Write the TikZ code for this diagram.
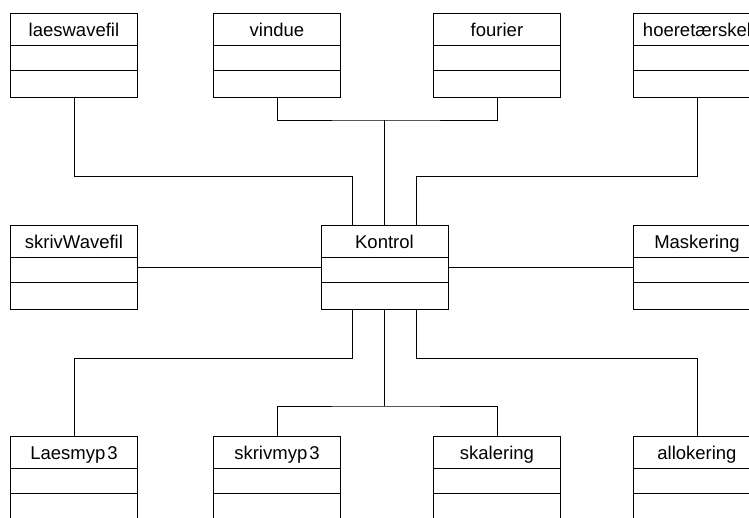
\documentclass[tikz,border=0pt]{standalone}
\usepackage{fontspec}
\setmainfont{Liberation Sans}
\begin{document}
\begin{tikzpicture}[x=1pt,y=-1pt,
  classbox/.style={draw=black, line width=0.9pt, minimum width=127pt, minimum height=84pt,
    inner sep=0pt, anchor=north west},
  classtitle/.style={font=\fontsize{18.5}{20}\selectfont, inner sep=0pt, anchor=base},
  divider/.style={draw=black, line width=0.9pt},
  link/.style={draw=black, line width=0.9pt}]
\useasboundingbox (0,0) rectangle (749,517);
\clip (0,0) rectangle (749,517);

% a class: name, left x, top y, title
\newcommand\umlclass[4]{%
  \node[classbox] (#1) at (#2,#3) {};
  \draw[divider] ([yshift=-32pt]#1.north west) -- ([yshift=-32pt]#1.north east);
  \draw[divider] ([yshift=-57pt]#1.north west) -- ([yshift=-57pt]#1.north east);
  \node[classtitle] (#1-t) at ([yshift=-23pt]#1.north) {#4};
}

% top row
\umlclass{laeswav}{10}{13}{laeswavefil}
\umlclass{vindue}{213}{13}{vindue}
\umlclass{fourier}{433}{13}{fourier}
\umlclass{hoere}{633}{13}{hoeretærskel}
% middle row
\umlclass{skrivwav}{10}{225}{skrivWavefil}
\umlclass{kontrol}{320.5}{225}{Kontrol}
\umlclass{mask}{633}{225}{Maskering}
% bottom row
\umlclass{laesmp}{10}{436}{Laesmyp\kern2pt3}
\umlclass{skrivmp}{213}{436}{skrivmyp\kern2pt3}
\umlclass{skal}{433}{436}{skalering}
\umlclass{alloc}{633}{436}{allokering}

% attachment points on Kontrol
\coordinate (ktl) at ([xshift=-32pt]kontrol.north);
\coordinate (ktr) at ([xshift=32pt]kontrol.north);
\coordinate (kbl) at ([xshift=-32pt]kontrol.south);
\coordinate (kbr) at ([xshift=32pt]kontrol.south);
\coordinate (busT) at (0,120);
\coordinate (outT) at (0,176);
\coordinate (outB) at (0,358);
\coordinate (busB) at (0,406);

% upper connectors
\draw[link] (laeswav.south) |- (ktl |- outT) -- (ktl);
\draw[link] (hoere.south) |- (ktr |- outT) -- (ktr);
\draw[link] (vindue.south) |- (kontrol.north |- busT) -| (fourier.south);
\draw[link] (kontrol.north |- busT) -- (kontrol.north);

% side connectors
\draw[link] (skrivwav.east) -- (kontrol.west);
\draw[link] (kontrol.east) -- (mask.west);

% lower connectors
\draw[link] (laesmp.north) |- (kbl |- outB) -- (kbl);
\draw[link] (alloc.north) |- (kbr |- outB) -- (kbr);
\draw[link] (skrivmp.north) |- (kontrol.south |- busB) -| (skal.north);
\draw[link] (kontrol.south |- busB) -- (kontrol.south);
\end{tikzpicture}
\end{document}
